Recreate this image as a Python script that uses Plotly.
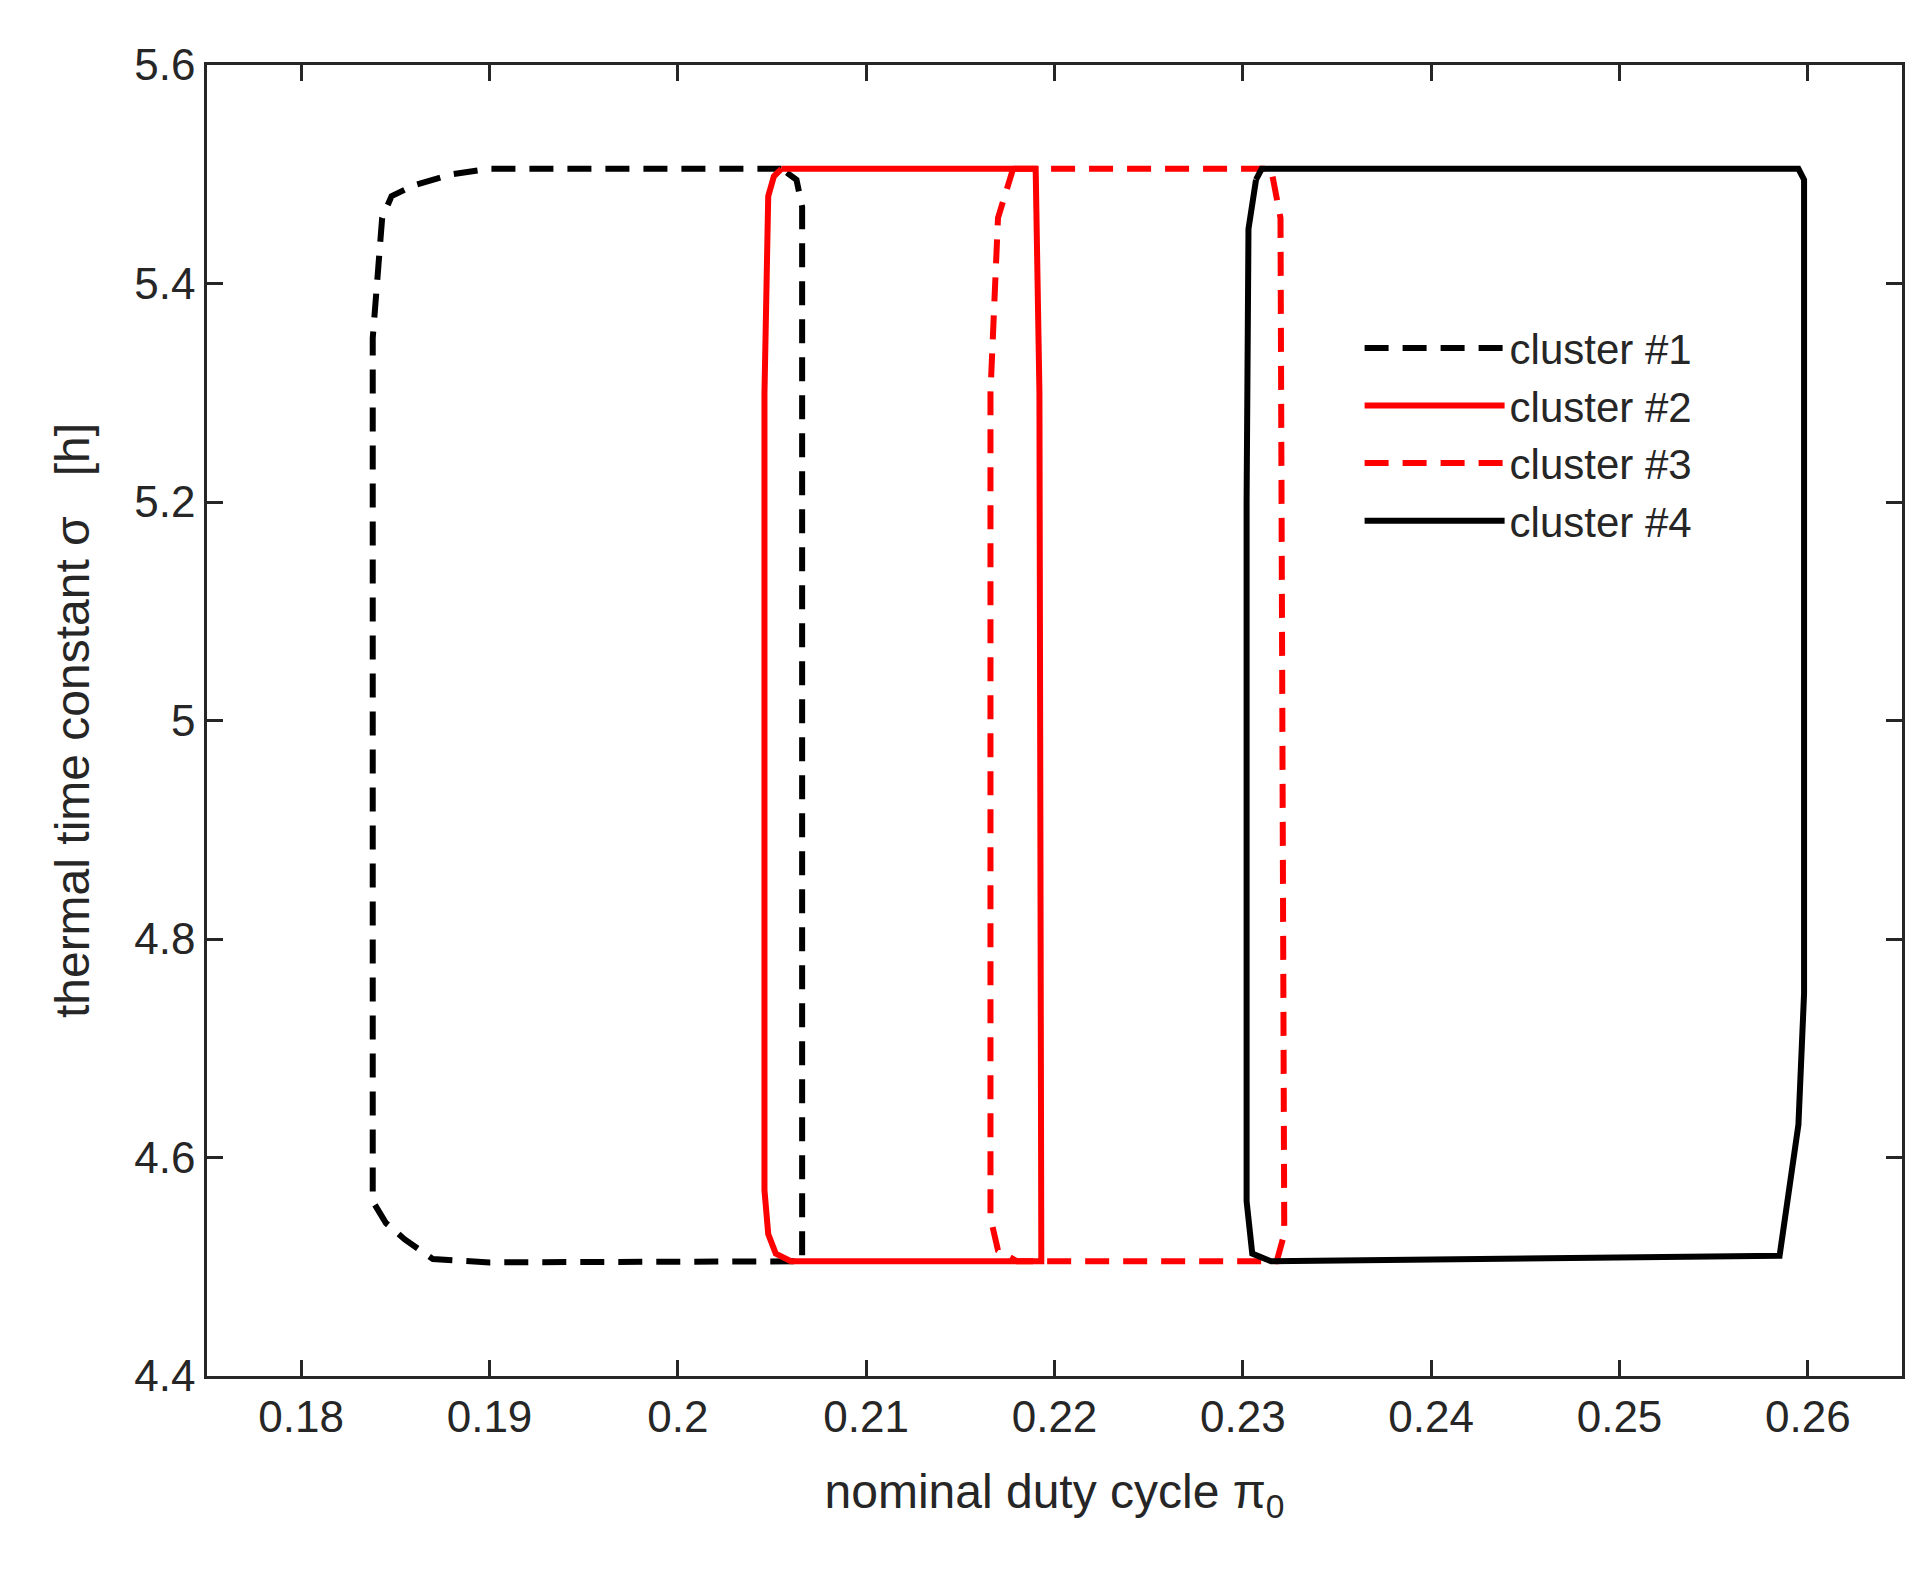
import plotly.graph_objects as go

c1_x = [0.2055,0.190,0.188,0.186,0.1848,0.1843,0.1838,0.1838,0.1845,0.1855,0.1870,0.1900,0.2066,0.2066,0.2063,0.2055]
c1_y = [5.505,5.505,5.500,5.490,5.480,5.460,5.350,4.560,4.540,4.525,4.507,4.504,4.505,5.470,5.495,5.505]
c2_x = [0.2055,0.2190,0.2192,0.2193,0.2060,0.2052,0.2048,0.2046,0.2046,0.2048,0.2051,0.2055]
c2_y = [5.505,5.505,5.300,4.505,4.505,4.512,4.530,4.570,5.300,5.480,5.498,5.505]
c3_x = [0.2178,0.2315,0.2320,0.2322,0.2318,0.2180,0.2170,0.2166,0.2166,0.2170,0.2178]
c3_y = [5.505,5.505,5.460,4.530,4.505,4.505,4.515,4.545,5.300,5.460,5.505]
c4_x = [0.2307,0.2310,0.2595,0.2598,0.2598,0.2595,0.2585,0.2315,0.2305,0.2302,0.2302,0.2303,0.2307]
c4_y = [5.495,5.505,5.505,5.495,4.750,4.630,4.510,4.505,4.512,4.560,5.200,5.450,5.495]

series = [("cluster #1", c1_x, c1_y, "black", "dash"),
          ("cluster #2", c2_x, c2_y, "red", "solid"),
          ("cluster #3", c3_x, c3_y, "red", "dash"),
          ("cluster #4", c4_x, c4_y, "black", "solid")]

fig = go.Figure()
for name, x, y, col, dash in series:
    fig.add_trace(go.Scatter(x=x, y=y, mode="lines", name=name,
                             line=dict(color=col, width=6, dash="24px,14px" if dash == "dash" else "solid")))

axis = dict(showgrid=False, zeroline=False, mirror="ticks", ticks="inside", ticklen=16,
            tickwidth=2.5, showline=True, linecolor="#262626", linewidth=2.5,
            tickfont=dict(size=44, color="#262626"), tickcolor="#262626")
fig.update_layout(
    width=1915, height=1577, plot_bgcolor="white", paper_bgcolor="white",
    font=dict(family="Liberation Sans, Arial", color="#262626"),
    margin=dict(l=199, r=21, t=57, b=209),
    xaxis=dict(range=[0.175, 0.265], dtick=0.01, tickformat="~g",
               title=dict(text="nominal duty cycle π<sub>0</sub>", font=dict(size=48), standoff=35), **axis),
    yaxis=dict(range=[4.4, 5.6], dtick=0.2, tickformat="~g",
               title=dict(text="thermal time constant σ   [h]", font=dict(size=48), standoff=30), **axis),
    legend=dict(x=0.68, y=0.81, xanchor="left", yanchor="top", bgcolor="rgba(0,0,0,0)",
                font=dict(size=42), itemwidth=140, tracegroupgap=0),
)
fig.write_html("out.html")
